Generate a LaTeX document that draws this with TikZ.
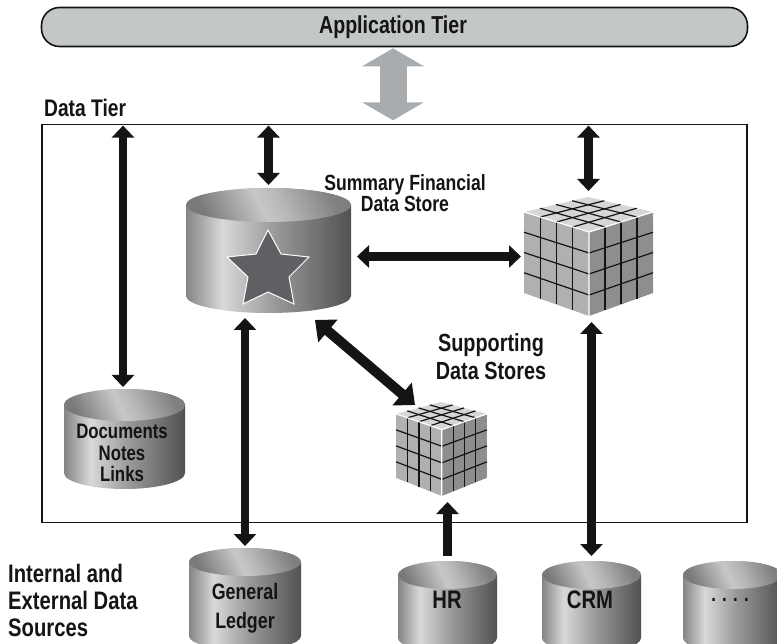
\documentclass[tikz,border=0pt]{standalone}
\usepackage{fontspec}
\setmainfont[FakeStretch=0.8]{Liberation Sans}
\usetikzlibrary{arrows.meta,calc}
\definecolor{tiergray}{HTML}{C4C7C8}
\definecolor{linkgray}{HTML}{A9ACAE}
\definecolor{inkblack}{HTML}{141414}
\definecolor{starfill}{HTML}{5F6064}
\definecolor{cubeleft}{HTML}{AEB0B2}
\definecolor{cuberight}{HTML}{8C8E8F}
\definecolor{cubetop}{HTML}{D4D6D7}
\pgfdeclarehorizontalshading{cylbody}{100bp}{
  color(0bp)=(black!48);color(25bp)=(black!48);color(36bp)=(black!15);
  color(52bp)=(black!40);color(75bp)=(black!68);color(100bp)=(black!68)}
\pgfdeclarehorizontalshading{cyltop}{100bp}{
  color(0bp)=(black!52);color(25bp)=(black!52);color(47bp)=(black!22);
  color(55bp)=(black!28);color(75bp)=(black!50);color(100bp)=(black!50)}
\tikzset{
  labeltext/.style={font=\fontsize{22}{21}\selectfont\bfseries,align=center,inner sep=0pt,text=inkblack},
  storeframe/.style={inner sep=0pt,outer sep=0pt},
  bothway/.style={draw=inkblack,line width=8.5pt,{Triangle[length=12pt,width=22pt]}-{Triangle[length=12pt,width=22pt]}},
  oneway/.style={draw=inkblack,line width=8.5pt,-{Triangle[length=12pt,width=22pt]}},
  diagway/.style={draw=inkblack,line width=10pt,{Triangle[length=17pt,width=29pt]}-{Triangle[length=17pt,width=29pt]}},
  tierlink/.style={draw=linkgray,line width=27pt,{Triangle[length=18pt,width=61pt]}-{Triangle[length=18pt,width=61pt]}}
}
\newcommand{\datastore}[6]{
  \pgfmathsetmacro{\rxval}{(#3-#2)/2}
  \path[shading=cylbody] (#2,-#4-#6) -- (#2,-#5+#6)
    arc[start angle=180,end angle=360,x radius=\rxval,y radius=#6]
    -- (#3,-#4-#6) arc[start angle=0,end angle=180,x radius=\rxval,y radius=#6] -- cycle;
  \path[shading=cyltop,shading angle=25] (#2,-#4-#6)
    arc[start angle=180,end angle=540,x radius=\rxval,y radius=#6] -- cycle;
  \node[storeframe,minimum width=#3pt-#2pt,minimum height=#5pt-#4pt] (#1) at ({(#2+#3)/2},{-(#4+#5)/2}) {};
}
\newcommand{\gridcube}[5]{
  \begin{scope}[shift={(#2,-#3)},xscale=#4,yscale=#5]
    \coordinate (#1t) at (64,0);
    \coordinate (#1l) at (0,-15);
    \coordinate (#1r) at (129,-15);
    \coordinate (#1f) at (65,-35);
    \coordinate (#1dl) at (0,-96);
    \coordinate (#1dr) at (129,-96);
    \coordinate (#1df) at (65,-119);
    \fill[cubetop] (#1t) -- (#1r) -- (#1f) -- (#1l) -- cycle;
    \fill[cubeleft] (#1l) -- (#1f) -- (#1df) -- (#1dl) -- cycle;
    \fill[cuberight] (#1r) -- (#1f) -- (#1df) -- (#1dr) -- cycle;
    \foreach \t in {0.25,0.5,0.75} {
      \draw[inkblack,line width=1.2pt] ($(#1l)!\t!(#1t)$) -- ($(#1f)!\t!(#1r)$);
      \draw[inkblack,line width=1.2pt] ($(#1r)!\t!(#1t)$) -- ($(#1f)!\t!(#1l)$);
      \draw[inkblack,line width=1.2pt] ($(#1l)!\t!(#1f)$) -- ($(#1dl)!\t!(#1df)$);
      \draw[inkblack,line width=1.2pt] ($(#1f)!\t!(#1r)$) -- ($(#1df)!\t!(#1dr)$);
      \draw[inkblack,line width=1.2pt] ($(#1l)!\t!(#1dl)$) -- ($(#1f)!\t!(#1df)$);
      \draw[inkblack,line width=1.2pt] ($(#1f)!\t!(#1df)$) -- ($(#1r)!\t!(#1dr)$);
    }
    \draw[white,line width=1.2pt] (#1l) -- (#1f) -- (#1r) (#1f) -- (#1df);
    \node[storeframe,minimum width=129pt*#4,minimum height=119pt*#5] (#1) at (64.5,-59.5) {};
  \end{scope}
}
\begin{document}
\begin{tikzpicture}[x=1pt,y=1pt]
    \useasboundingbox (0,0) rectangle (777,-644);
    \clip (0,0) rectangle (777,-644);
    \node[draw=inkblack,fill=tiergray,line width=1.6pt,rounded corners=18pt,minimum width=706pt,minimum height=39pt,inner sep=0pt] (apptier) at (394.5,-27) {};
    \node[labeltext,font=\fontsize{24.5}{24}\selectfont\bfseries] (apptext) at (393,-27) {Application Tier};
    \node[draw=inkblack,line width=1.8pt,minimum width=705pt,minimum height=398pt,inner sep=0pt] (datatier) at (394.5,-323.5) {};
    \node[labeltext,anchor=west,font=\fontsize{24}{24}\selectfont\bfseries] (datatext) at (44,-108) {Data Tier};
    \datastore{cylsum}{186}{351}{188}{313}{17}
    \datastore{cyldocs}{64}{185}{389}{489}{16}
    \datastore{cylledger}{189}{301}{548}{650}{14}
    \datastore{cylhr}{398}{497}{561}{652}{14}
    \datastore{cylcrm}{542}{641}{561}{652}{14}
    \datastore{cylmore}{683}{782}{561}{652}{14}
    \draw[starfill,fill=starfill,draw=white,line width=1pt] (268,-230) -- (281,-254) -- (309,-257) -- (289,-277) -- (294,-304) -- (268,-292) -- (243,-304) -- (248,-277) -- (227,-257) -- (256,-254) -- cycle;
    \gridcube{cubefin}{524}{197}{1}{1}
    \gridcube{cubesup}{396}{402}{0.705}{0.79}
    \coordinate (diagfrom) at (315,-320);
    \coordinate (diagto) at (415,-405);
    \draw[tierlink] (apptier.south -| 393,0) ++(0,-1) -- ++(0,-72);
    \draw[bothway,shorten <=2pt,shorten >=2pt] ([xshift=-1.5pt]datatier.north -| cyldocs.north) -- ([xshift=-1.5pt]cyldocs.north);
    \draw[bothway,shorten <=2pt,shorten >=3pt] (datatier.north -| cylsum.north) -- (cylsum.north);
    \draw[bothway,shorten <=2pt,shorten >=6pt] (datatier.north -| cubefin.north) -- (cubefin.north);
    \draw[bothway,shorten <=6pt,shorten >=3pt] (cylsum.east |- cubefin.west) -- (cubefin.west);
    \draw[diagway] (diagfrom) -- (diagto);
    \draw[bothway,shorten <=5pt,shorten >=2pt] (cylsum.south -| cylledger.north) -- (cylledger.north);
    \draw[oneway,shorten <=5pt,shorten >=6pt] (cylhr.north) -- (cubesup.south -| cylhr.north);
    \draw[bothway,shorten <=6pt,shorten >=5pt] (cubefin.south -| cylcrm.north) -- (cylcrm.north);
    \node[labeltext] (sumtext) at (405,-193.5) {Summary Financial\\Data Store};
    \node[labeltext,font=\fontsize{24.8}{28}\selectfont\bfseries] (suptext) at (491,-357) {Supporting\\Data Stores};
    \node[labeltext,font=\fontsize{21}{21.5}\selectfont\bfseries] (docstext) at (122,-453) {Documents\\Notes\\Links};
    \node[labeltext,align=left,anchor=west,font=\fontsize{25.3}{27}\selectfont\bfseries] (srctext) at (8,-600) {Internal and\\External Data\\Sources};
    \node[labeltext,font=\fontsize{22.3}{29}\selectfont\bfseries] (ledgertext) at (245,-608.5) {General\\Ledger};
    \node[labeltext,font=\fontsize{25.3}{20}\selectfont\bfseries] (hrtext) at (447,-600) {HR};
    \node[labeltext,font=\fontsize{25.3}{20}\selectfont\bfseries] (crmtext) at (590,-600) {CRM};
    \node[labeltext,font=\fontsize{21}{20}\selectfont\bfseries] (moretext) at (730,-600) {. . . .};
\end{tikzpicture}
\end{document}
